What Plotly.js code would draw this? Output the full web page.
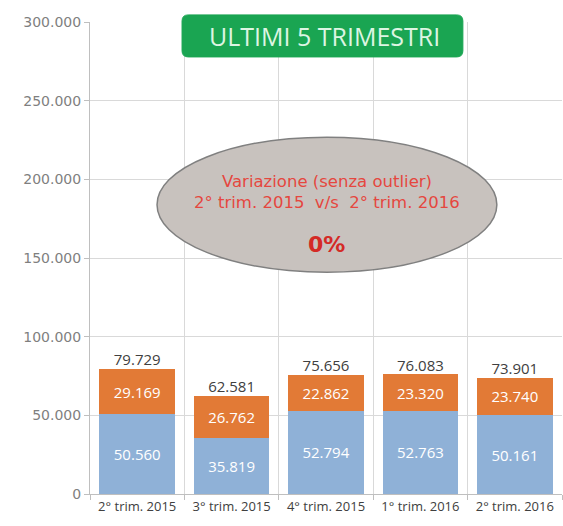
<!DOCTYPE html>
<html>
<head>
<meta charset="utf-8">
<script src="https://cdn.plot.ly/plotly-3.0.1.min.js"></script>
<style>html,body{margin:0;padding:0;background:#fff}#chart{width:563px;height:526px}</style>
</head>
<body>
<div id="chart"></div>
<script>
const categories = ["2° trim. 2015", "3° trim. 2015", "4° trim. 2015", "1° trim. 2016", "2° trim. 2016"];
const lowerValues = [50560, 35819, 52794, 52763, 50161];
const upperValues = [29169, 26762, 22862, 23320, 23740];
const totals = [79729, 62581, 75656, 76083, 73901];
const yTickValues = [0, 50000, 100000, 150000, 200000, 250000, 300000];
const titleText = "ULTIMI 5 TRIMESTRI";
const bubbleLines = ["Variazione (senza outlier)", "2° trim. 2015  v/s  2° trim. 2016"];
const bubbleValue = "0%";

const traces = [
  {
    type: "bar", x: categories, y: lowerValues,
    marker: {color: "#8FB1D7"},
    texttemplate: "%{y:,}", textposition: "inside", insidetextanchor: "middle",
    textfont: {color: "#FFFFFF", size: 15, family: "Open Sans"},
    hoverinfo: "skip", showlegend: false
  },
  {
    type: "bar", x: categories, y: upperValues,
    marker: {color: "#E27A36"},
    texttemplate: "%{y:,}", textposition: "inside", insidetextanchor: "middle",
    textfont: {color: "#FFFFFF", size: 15, family: "Open Sans"},
    hoverinfo: "skip", showlegend: false
  },
  {
    type: "scatter", mode: "text", x: categories, y: totals,
    texttemplate: "%{y:,}", textposition: "top center",
    textfont: {color: "#404040", size: 15, family: "Open Sans"},
    hoverinfo: "skip", showlegend: false, cliponaxis: false
  }
];

const r = 0.013;
const bx0 = 0.195, bx1 = 0.790, by0 = 0.926, by1 = 1.015;
const boxPath = `M ${bx0 + r},${by0} L ${bx1 - r},${by0} Q ${bx1},${by0} ${bx1},${by0 + r} L ${bx1},${by1 - r} Q ${bx1},${by1} ${bx1 - r},${by1} L ${bx0 + r},${by1} Q ${bx0},${by1} ${bx0},${by1 - r} L ${bx0},${by0 + r} Q ${bx0},${by0} ${bx0 + r},${by0} Z`;

const layout = {
  width: 563, height: 526,
  margin: {l: 90, r: 1, t: 22, b: 32},
  paper_bgcolor: "#FFFFFF", plot_bgcolor: "#FFFFFF",
  separators: ",.",
  barmode: "stack", bargap: 0.2,
  xaxis: {
    type: "category", tickson: "boundaries",
    showgrid: true, gridcolor: "#D9D9D9", gridwidth: 1,
    showline: true, linecolor: "#BFBFBF", linewidth: 1,
    ticks: "outside", ticklen: 5, tickcolor: "#BFBFBF",
    tickfont: {color: "#404040", size: 13, family: "Open Sans"},
    range: [-0.5, 4.5], fixedrange: true
  },
  yaxis: {
    range: [0, 300000], tickvals: yTickValues, tickformat: ",",
    showgrid: true, gridcolor: "#D9D9D9", gridwidth: 1,
    showline: true, linecolor: "#BFBFBF", linewidth: 1,
    ticks: "outside", ticklen: 5, tickcolor: "#BFBFBF",
    tickfont: {color: "#7F7F7F", size: 14, family: "DejaVu Sans"},
    zeroline: false, fixedrange: true
  },
  shapes: [
    {type: "path", xref: "paper", yref: "paper", path: boxPath,
     fillcolor: "#1AA552", line: {color: "#1AA552", width: 1}, layer: "above"},
    {type: "circle", xref: "paper", yref: "paper", x0: 0.142, x1: 0.862, y0: 0.470, y1: 0.756,
     fillcolor: "#C8C2BE", line: {color: "#808080", width: 1.5}, layer: "above"}
  ],
  annotations: [
    {xref: "paper", yref: "paper", x: 0.4958, y: 0.970, text: titleText, showarrow: false,
     font: {color: "#DDF5E3", size: 25, family: "Open Sans"}, xanchor: "center", yanchor: "middle"},
    {xref: "paper", yref: "paper", x: 0.502, y: 0.662, text: bubbleLines[0], showarrow: false,
     font: {color: "#E5473F", size: 16.5, family: "DejaVu Sans"}, xanchor: "center", yanchor: "middle"},
    {xref: "paper", yref: "paper", x: 0.502, y: 0.618, text: bubbleLines[1], showarrow: false,
     font: {color: "#E5473F", size: 16.5, family: "DejaVu Sans"}, xanchor: "center", yanchor: "middle"},
    {xref: "paper", yref: "paper", x: 0.502, y: 0.528, text: "<b>" + bubbleValue + "</b>", showarrow: false,
     font: {color: "#D42A26", size: 22, family: "DejaVu Sans"}, xanchor: "center", yanchor: "middle"}
  ]
};

Plotly.newPlot("chart", traces, layout, {displayModeBar: false, staticPlot: true});
</script>
</body>
</html>
